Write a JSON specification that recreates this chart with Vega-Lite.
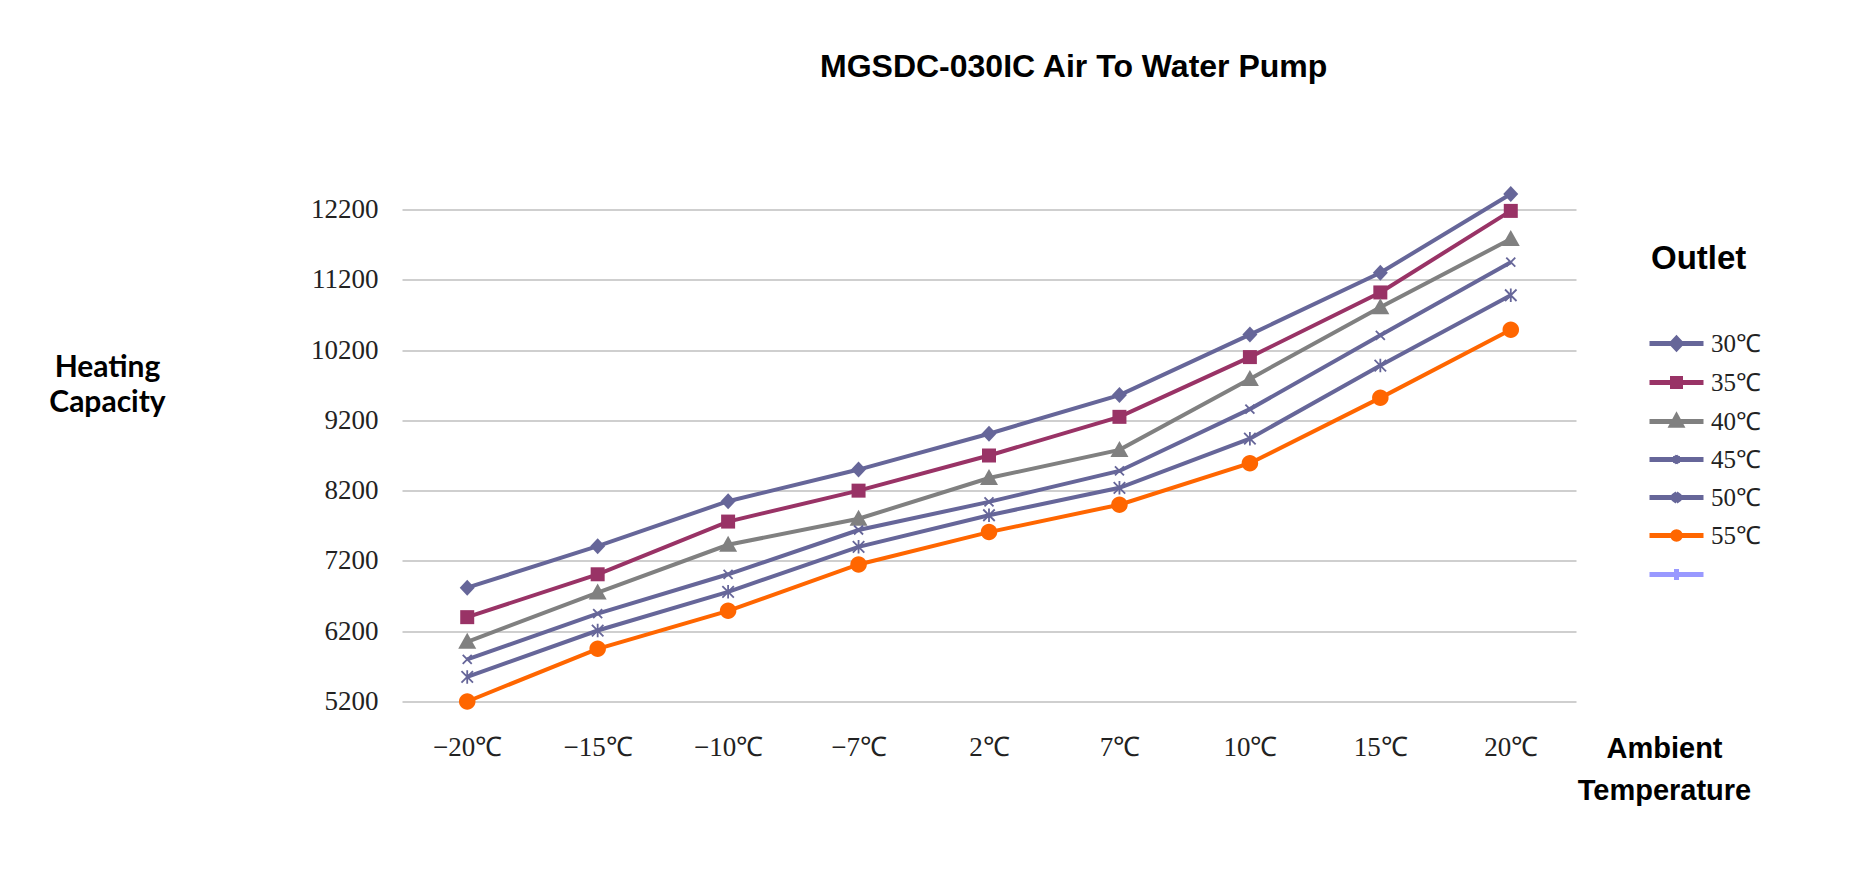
{
  "$schema": "https://vega.github.io/schema/vega-lite/v6.json",
  "autosize": {"type": "none"},
  "width": 1174,
  "height": 492,
  "padding": {"left": 402, "top": 209.5, "right": 280, "bottom": 176.5},
  "background": "white",
  "config": {"view": {"stroke": null}},
  "title": {
    "text": "MGSDC-030IC Air To Water Pump",
    "font": "Liberation Sans",
    "fontSize": 32,
    "fontWeight": "bold",
    "color": "#000000",
    "anchor": "start",
    "frame": "group",
    "dx": 418,
    "offset": 77,
    "baseline": "alphabetic"
  },
  "data": {
    "values": [
      {"temp": "−20℃", "outlet": "30℃", "value": 6820},
      {"temp": "−15℃", "outlet": "30℃", "value": 7410},
      {"temp": "−10℃", "outlet": "30℃", "value": 8050},
      {"temp": "−7℃", "outlet": "30℃", "value": 8500},
      {"temp": "2℃", "outlet": "30℃", "value": 9010},
      {"temp": "7℃", "outlet": "30℃", "value": 9560},
      {"temp": "10℃", "outlet": "30℃", "value": 10420},
      {"temp": "15℃", "outlet": "30℃", "value": 11300},
      {"temp": "20℃", "outlet": "30℃", "value": 12420},
      {"temp": "−20℃", "outlet": "35℃", "value": 6400},
      {"temp": "−15℃", "outlet": "35℃", "value": 7010},
      {"temp": "−10℃", "outlet": "35℃", "value": 7760},
      {"temp": "−7℃", "outlet": "35℃", "value": 8200},
      {"temp": "2℃", "outlet": "35℃", "value": 8700},
      {"temp": "7℃", "outlet": "35℃", "value": 9250},
      {"temp": "10℃", "outlet": "35℃", "value": 10100},
      {"temp": "15℃", "outlet": "35℃", "value": 11020},
      {"temp": "20℃", "outlet": "35℃", "value": 12180},
      {"temp": "−20℃", "outlet": "40℃", "value": 6050},
      {"temp": "−15℃", "outlet": "40℃", "value": 6750},
      {"temp": "−10℃", "outlet": "40℃", "value": 7430},
      {"temp": "−7℃", "outlet": "40℃", "value": 7800},
      {"temp": "2℃", "outlet": "40℃", "value": 8380},
      {"temp": "7℃", "outlet": "40℃", "value": 8780},
      {"temp": "10℃", "outlet": "40℃", "value": 9790},
      {"temp": "15℃", "outlet": "40℃", "value": 10810},
      {"temp": "20℃", "outlet": "40℃", "value": 11780},
      {"temp": "−20℃", "outlet": "45℃", "value": 5800},
      {"temp": "−15℃", "outlet": "45℃", "value": 6450},
      {"temp": "−10℃", "outlet": "45℃", "value": 7010},
      {"temp": "−7℃", "outlet": "45℃", "value": 7640},
      {"temp": "2℃", "outlet": "45℃", "value": 8040},
      {"temp": "7℃", "outlet": "45℃", "value": 8480},
      {"temp": "10℃", "outlet": "45℃", "value": 9360},
      {"temp": "15℃", "outlet": "45℃", "value": 10410},
      {"temp": "20℃", "outlet": "45℃", "value": 11450},
      {"temp": "−20℃", "outlet": "50℃", "value": 5550},
      {"temp": "−15℃", "outlet": "50℃", "value": 6210},
      {"temp": "−10℃", "outlet": "50℃", "value": 6760},
      {"temp": "−7℃", "outlet": "50℃", "value": 7400},
      {"temp": "2℃", "outlet": "50℃", "value": 7850},
      {"temp": "7℃", "outlet": "50℃", "value": 8240},
      {"temp": "10℃", "outlet": "50℃", "value": 8940},
      {"temp": "15℃", "outlet": "50℃", "value": 9980},
      {"temp": "20℃", "outlet": "50℃", "value": 10980},
      {"temp": "−20℃", "outlet": "55℃", "value": 5200},
      {"temp": "−15℃", "outlet": "55℃", "value": 5950},
      {"temp": "−10℃", "outlet": "55℃", "value": 6490},
      {"temp": "−7℃", "outlet": "55℃", "value": 7150},
      {"temp": "2℃", "outlet": "55℃", "value": 7610},
      {"temp": "7℃", "outlet": "55℃", "value": 8000},
      {"temp": "10℃", "outlet": "55℃", "value": 8590},
      {"temp": "15℃", "outlet": "55℃", "value": 9520},
      {"temp": "20℃", "outlet": "55℃", "value": 10490}
    ]
  },
  "encoding": {
    "x": {
      "field": "temp",
      "type": "ordinal",
      "sort": ["−20℃", "−15℃", "−10℃", "−7℃", "2℃", "7℃", "10℃", "15℃", "20℃"],
      "scale": {"type": "point", "padding": 0.5},
      "axis": {
        "title": ["Ambient", "Temperature"],
        "titleFont": "Liberation Sans",
        "titleFontSize": 29,
        "titleFontWeight": "bold",
        "titleColor": "#000000",
        "titleAngle": 0,
        "titleAlign": "center",
        "titleBaseline": "top",
        "titleX": 1262,
        "titleY": 33,
        "titleLineHeight": 42,
        "labelFont": "Liberation Serif",
        "labelFontSize": 27,
        "labelColor": "#222222",
        "labelAngle": 0,
        "labelPadding": 33,
        "ticks": false,
        "domain": false,
        "grid": false
      }
    },
    "y": {
      "field": "value",
      "type": "quantitative",
      "scale": {"domain": [5200, 12200], "nice": false, "zero": false},
      "axis": {
        "values": [5200, 6200, 7200, 8200, 9200, 10200, 11200, 12200],
        "format": "d",
        "title": ["Heating", "Capacity"],
        "titleFont": "Lato",
        "titleFontSize": 30,
        "titleFontWeight": "bold",
        "titleColor": "#000000",
        "titleAngle": 0,
        "titleAlign": "center",
        "titleBaseline": "alphabetic",
        "titleX": -295,
        "titleY": 167,
        "titleLineHeight": 35,
        "labelFont": "Liberation Serif",
        "labelFontSize": 27,
        "labelColor": "#222222",
        "labelPadding": 24,
        "ticks": false,
        "domain": false,
        "grid": true,
        "gridColor": "#bfbfbf",
        "gridWidth": 1.6
      }
    },
    "color": {
      "field": "outlet",
      "type": "nominal",
      "scale": {
        "domain": ["30℃", "35℃", "40℃", "45℃", "50℃", "55℃", " "],
        "range": ["#666699", "#993366", "#808080", "#666699", "#666699", "#FF6600", "#9999FF"]
      },
      "legend": {
        "orient": "none",
        "legendX": 1249,
        "legendY": 33.5,
        "padding": 0,
        "title": "Outlet",
        "titleFont": "Liberation Sans",
        "titleFontSize": 33,
        "titleFontWeight": "bold",
        "titleColor": "#000000",
        "titlePadding": 55,
        "labelFont": "Liberation Serif",
        "labelFontSize": 25,
        "labelColor": "#222222",
        "labelOffset": 22,
        "rowPadding": 9,
        "symbolSize": 100,
        "symbolStrokeWidth": 5,
        "encode": {
          "title": {"update": {"dx": {"value": -13}}},
          "symbols": {
            "update": {
              "shape": {"signal": "datum.value === '30℃' ? 'M-5.4,0L5.4,0M0,-1L0.95,0L0,1L-0.95,0Z' : datum.value === '35℃' ? 'M-5.4,0L5.4,0M-0.8,-0.8L0.8,-0.8L0.8,0.8L-0.8,0.8Z' : datum.value === '40℃' ? 'M-5.4,0L5.4,0M0,-1L0.95,0.75L-0.95,0.75Z' : datum.value === '45℃' ? 'M-5.4,0L5.4,0M-0.25,-0.8L0.25,0.8M0.25,-0.8L-0.25,0.8' : datum.value === '50℃' ? 'M-5.4,0L5.4,0M-0.6,-0.9L0.6,0.9M0.6,-0.9L-0.6,0.9' : datum.value === '55℃' ? 'M-5.4,0L5.4,0M-0.75,0A0.75,0.75,0,1,0,0.75,0A0.75,0.75,0,1,0,-0.75,0Z' : 'M-5.4,0L5.4,0M0,-1.1L0,1.1'"},
              "fill": {"signal": "scale('color', datum.value)"},
              "stroke": {"signal": "scale('color', datum.value)"},
              "strokeWidth": {"value": 5},
              "opacity": {"value": 1}
            }
          }
        }
      }
    },
    "shape": {
      "field": "outlet",
      "type": "nominal",
      "scale": {
        "domain": ["30℃", "35℃", "40℃", "45℃", "50℃", "55℃"],
        "range": [
          "M0,-1.6L1.5,0L0,1.6L-1.5,0Z",
          "M-1.4,-1.4L1.4,-1.4L1.4,1.4L-1.4,1.4Z",
          "M0,-1.8L1.8,1.4L-1.8,1.4Z",
          "M-0.9,-0.9L0.9,0.9M0.9,-0.9L-0.9,0.9",
          "M-1.15,-1.15L1.15,1.15M1.15,-1.15L-1.15,1.15M0,-1.35L0,1.35",
          "M-1.65,0A1.65,1.65,0,1,0,1.65,0A1.65,1.65,0,1,0,-1.65,0Z"
        ]
      },
      "legend": null
    }
  },
  "layer": [
    {
      "mark": {"type": "line", "strokeWidth": 4}
    },
    {
      "transform": [{"filter": {"field": "outlet", "oneOf": ["30℃", "35℃", "40℃", "55℃"]}}],
      "mark": {"type": "point", "filled": true, "size": 100, "opacity": 1}
    },
    {
      "transform": [{"filter": {"field": "outlet", "oneOf": ["45℃", "50℃"]}}],
      "mark": {"type": "point", "filled": false, "size": 100, "strokeWidth": 1.8, "opacity": 1}
    }
  ]
}
